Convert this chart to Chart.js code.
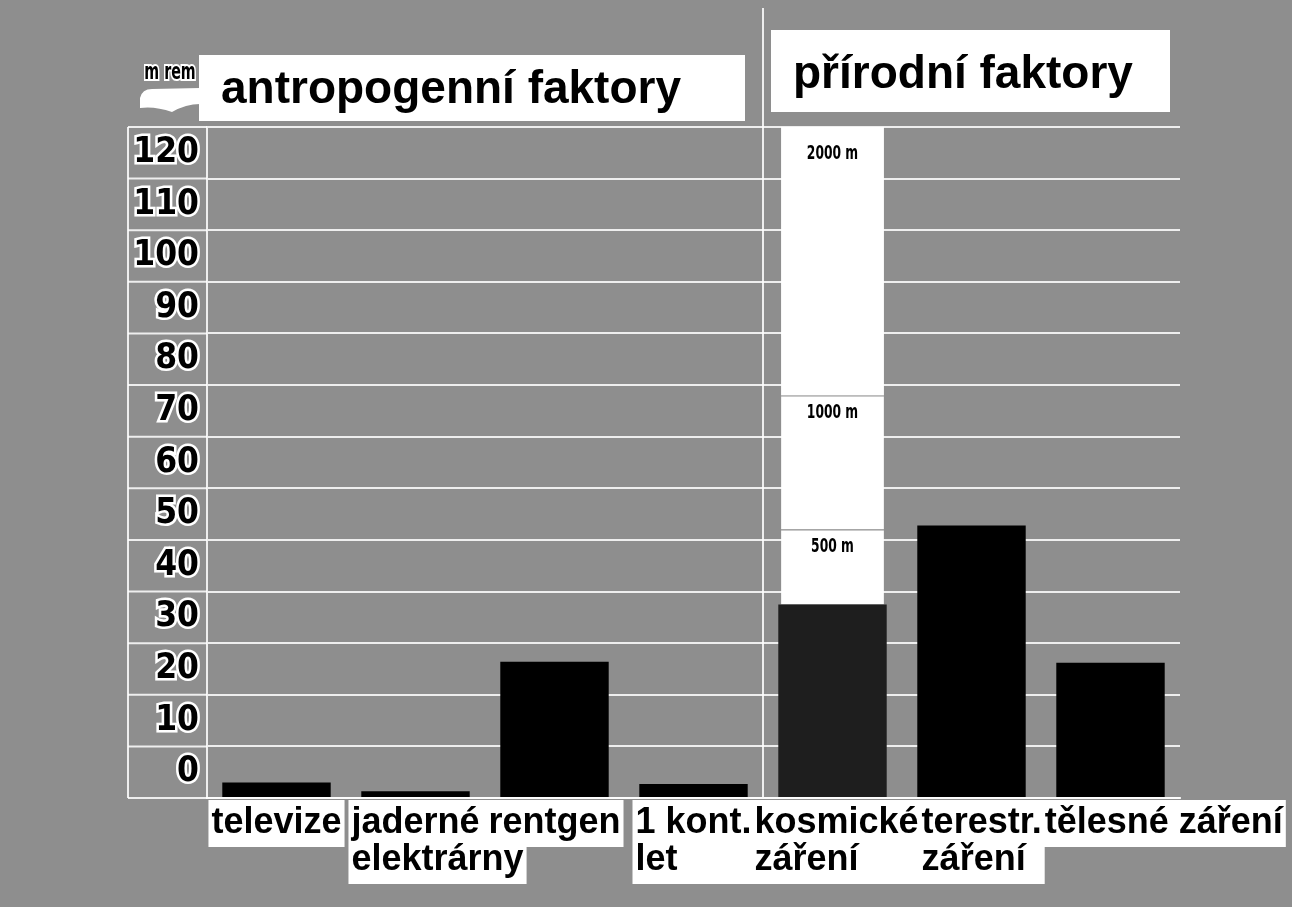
<!DOCTYPE html>
<html lang="cs">
<head>
<meta charset="utf-8">
<title>Dávky záření</title>
<script src="https://cdn.jsdelivr.net/npm/chart.js@4.4.1/dist/chart.umd.min.js"></script>
<style>
    html, body { margin: 0; padding: 0; background: #8e8e8e; }
    #doseChart { display: block; }
</style>
</head>
<body>
<canvas id="doseChart" width="1292" height="907"></canvas>
<script>
// hodnoty (mrem, podle popisků osy)
const categories = ['televize', ['jaderné', 'elektrárny'], 'rentgen', ['1 kont.', 'let'], ['kosmické', 'záření'], ['terestr.', 'záření'], 'tělesné záření'];
const doseValues = [-2, -3.7, 21.4, -2.3, 32.5, 47.8, 21.2];
const barColors = ['#000', '#000', '#000', '#000', '#1e1e1e', '#000', '#000'];
const axisFloor = -5;
const axisCeil = 125;
const yTickLabels = ['0', '10', '20', '30', '40', '50', '60', '70', '80', '90', '100', '110', '120'];
const naturalStart = 4;
const cosmicIndex = 4;
const altitudeLabels = ['500 m', '1000 m', '2000 m'];
const altitudeDoses = [47, 73, 125];
const groupTitles = ['antropogenní faktory', 'přírodní faktory'];
const unitLabel = 'm rem';

const gridWhite = 'rgba(255,255,255,0.85)';
const condensed = '"DejaVu Sans Condensed", "Liberation Sans Narrow", "DejaVu Sans", sans-serif';
const sans = '"Liberation Sans", Arial, sans-serif';
const labelFont = 'bold 36px ' + sans;
const labelLine = 37;
const labelGap = 3;

const altitudeSets = altitudeLabels.map((name, i) => {
    const low = i === 0 ? doseValues[cosmicIndex] : altitudeDoses[i - 1];
    return {
        label: name,
        data: categories.map((c, j) => j === cosmicIndex ? [low, altitudeDoses[i]] : null),
        backgroundColor: '#fff',
        borderColor: '#9a9a9a',
        borderWidth: i === altitudeLabels.length - 1 ? 0 : {top: 1, right: 0, bottom: 0, left: 0},
        borderSkipped: false,
        grouped: false,
        barPercentage: 0.74,
        categoryPercentage: 1,
    };
});

const decorations = {
    id: 'decorations',
    beforeDraw(chart) {
        const ctx = chart.ctx;
        const area = chart.chartArea;
        const y = chart.scales.y;
        const x = chart.scales.x;
        const line = (x1, y1, x2, y2) => {
            ctx.beginPath();
            ctx.moveTo(x1, y1);
            ctx.lineTo(x2, y2);
            ctx.stroke();
        };
        ctx.save();
        ctx.strokeStyle = gridWhite;
        ctx.lineWidth = 2;
        // rámečky sloupce s popisky
        y.ticks.forEach(t => {
            if (t.value % 10 !== 0) {
                const py = y.getPixelForValue(t.value);
                line(y.left, py, y.right, py);
            }
        });
        line(y.left, area.top, y.left, area.bottom);
        const divX = (x.getPixelForValue(naturalStart - 1) + x.getPixelForValue(naturalStart)) / 2;
        line(divX, 8, divX, area.top);

        // nadpisy skupin
        ctx.fillStyle = '#fff';
        ctx.fillRect(area.left - 8, 55, divX - 18 - (area.left - 8), 66);
        ctx.fillRect(divX + 8, 30, area.right - 10 - (divX + 8), 82);
        ctx.fillStyle = '#000';
        ctx.font = 'bold 46px ' + sans;
        ctx.textBaseline = 'alphabetic';
        ctx.textAlign = 'left';
        ctx.fillText(groupTitles[0], area.left + 14, 103);
        ctx.fillText(groupTitles[1], divX + 30, 88);

        // jednotka
        ctx.fillStyle = '#fff';
        ctx.beginPath();
        ctx.moveTo(140, 98);
        ctx.quadraticCurveTo(142, 89, 152, 89);
        ctx.lineTo(200, 88);
        ctx.lineTo(200, 104);
        ctx.quadraticCurveTo(186, 104, 172, 112);
        ctx.quadraticCurveTo(155, 106, 140, 108);
        ctx.closePath();
        ctx.fill();
        ctx.translate(170, 73);
        ctx.scale(0.72, 1.05);
        ctx.font = 'bold 22px ' + condensed;
        ctx.textAlign = 'center';
        ctx.textBaseline = 'middle';
        ctx.lineWidth = 4;
        ctx.strokeStyle = '#fff';
        ctx.strokeText(unitLabel, 0, 0);
        ctx.fillStyle = '#000';
        ctx.fillText(unitLabel, 0, 0);
        ctx.restore();
    },
    afterDatasetsDraw(chart) {
        const ctx = chart.ctx;
        ctx.font = 'bold 19px ' + condensed;
        ctx.fillStyle = '#000';
        ctx.textAlign = 'center';
        ctx.textBaseline = 'middle';
        altitudeLabels.forEach((name, i) => {
            const el = chart.getDatasetMeta(i + 1).data[cosmicIndex];
            const gap = i === altitudeLabels.length - 1 ? 27 : 17;
            ctx.save();
            ctx.translate(el.x, el.y + gap);
            ctx.scale(0.72, 1.05);
            ctx.fillText(name, 0, 0);
            ctx.restore();
        });
    },
    afterDraw(chart) {
        // popisky kategorií: zarovnané vlevo, na střed kategorie, bez překryvu s předchozím
        const ctx = chart.ctx;
        const x = chart.scales.x;
        ctx.save();
        ctx.font = labelFont;
        ctx.textAlign = 'left';
        ctx.textBaseline = 'top';
        let prevEnd = -Infinity;
        const blocks = categories.map((lab, i) => {
            const lines = Array.isArray(lab) ? lab : [lab];
            const firstW = ctx.measureText(lines[0]).width;
            const maxW = Math.max(...lines.map(l => ctx.measureText(l).width));
            const left = Math.max(x.getPixelForTick(i) - firstW / 2, prevEnd + labelGap);
            prevEnd = left + firstW;
            return {lines, left, maxW};
        });
        ctx.fillStyle = '#fff';
        blocks.forEach(b => {
            ctx.fillRect(b.left - 3, x.top + 2, b.maxW + 6, b.lines.length * labelLine + 10);
        });
        ctx.fillStyle = '#000';
        blocks.forEach(b => {
            b.lines.forEach((l, k) => ctx.fillText(l, b.left, x.top + 7 + k * labelLine));
        });
        ctx.restore();
    }
};

new Chart(document.getElementById('doseChart'), {
    type: 'bar',
    data: {
        labels: categories,
        datasets: [
            {
                label: 'dávka',
                data: doseValues,
                base: axisFloor,
                backgroundColor: barColors,
                borderWidth: 0,
                grouped: false,
                barPercentage: 0.78,
                categoryPercentage: 1,
            },
            ...altitudeSets
        ]
    },
    options: {
        responsive: false,
        animation: false,
        devicePixelRatio: 1,
        layout: {padding: {left: 128, right: 112, top: 127, bottom: 0}},
        plugins: {
            legend: {display: false},
            tooltip: {enabled: false},
        },
        scales: {
            x: {
                afterFit: scale => { scale.height = 109; },
                grid: {
                    offset: true,
                    drawTicks: false,
                    lineWidth: 2,
                    color: ctx => (ctx.index === naturalStart || ctx.index === categories.length) ? gridWhite : 'transparent',
                },
                border: {color: gridWhite, width: 2},
                ticks: {display: false}
            },
            y: {
                min: axisFloor,
                max: axisCeil,
                afterFit: scale => { scale.width = 79; },
                grid: {
                    drawTicks: false,
                    lineWidth: 2,
                    color: ctx => ctx.tick && ctx.tick.value % 10 !== 0 ? gridWhite : 'transparent',
                },
                border: {color: gridWhite, width: 2},
                ticks: {
                    stepSize: 5,
                    autoSkip: false,
                    padding: 8,
                    color: '#000',
                    textStrokeColor: '#fff',
                    textStrokeWidth: 5,
                    font: {family: condensed, size: 35, weight: 'bold'},
                    callback: v => yTickLabels.includes(String(v)) ? String(v) : '',
                }
            }
        }
    },
    plugins: [decorations],
});
</script>
</body>
</html>
